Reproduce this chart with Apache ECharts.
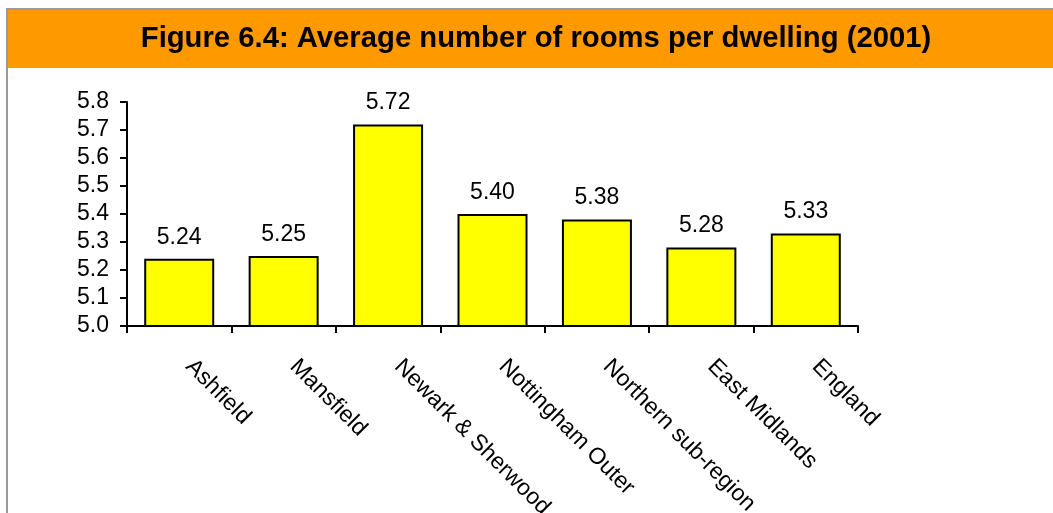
<!DOCTYPE html>
<html>
<head>
<meta charset="utf-8">
<script src="https://cdn.jsdelivr.net/npm/echarts@6/dist/echarts.min.js"></script>
<style>
  html, body { margin: 0; padding: 0; background: #fff; }
  #chart { width: 1053px; height: 513px; }
</style>
</head>
<body>
<div id="chart"></div>
<script>
// Average number of rooms per dwelling, 2001
const categories = ['Ashfield', 'Mansfield', 'Newark & Sherwood', 'Nottingham Outer',
                    'Northern sub-region', 'East Midlands', 'England'];
const roomsPerDwelling = [5.24, 5.25, 5.72, 5.40, 5.38, 5.28, 5.33];
const titleText = 'Figure 6.4: Average number of rooms per dwelling (2001)';

const FONT = '"Liberation Sans", Arial, Helvetica, sans-serif';

const chart = echarts.init(document.getElementById('chart'), null, { renderer: 'canvas' });

chart.setOption({
  animation: false,
  backgroundColor: '#ffffff',
  graphic: [
    { type: 'rect', shape: { x: 6, y: 8, width: 1060, height: 2 }, style: { fill: '#9a9a9a' }, silent: true },
    { type: 'rect', shape: { x: 6, y: 8, width: 2, height: 520 }, style: { fill: '#9a9a9a' }, silent: true },
    { type: 'rect', shape: { x: 8, y: 10, width: 1060, height: 58 }, style: { fill: '#FF9900' }, silent: true },
    {
      type: 'text', x: 536, y: 39, scaleX: 0.975,
      style: {
        text: titleText, fill: '#000', font: 'bold 30px ' + FONT,
        textAlign: 'center', textVerticalAlign: 'middle'
      },
      silent: true
    }
  ],
  grid: { left: 127, right: 195, top: 102, bottom: 187, containLabel: false, outerBoundsMode: 'none' },
  xAxis: {
    type: 'category',
    data: categories,
    boundaryGap: true,
    axisLine: { lineStyle: { color: '#000', width: 2 } },
    axisTick: { show: true, length: 7, alignWithLabel: false, lineStyle: { color: '#000', width: 2 } },
    axisLabel: {
      rotate: -45, margin: 27, color: '#000', fontSize: 23, fontFamily: FONT, interval: 0,
      padding: [0, 0, 0, 14]
    },
    splitLine: { show: false }
  },
  yAxis: {
    type: 'value',
    min: 5.0, max: 5.8, interval: 0.1,
    axisLine: { show: true, lineStyle: { color: '#000', width: 2 } },
    axisTick: { show: true, length: 7, lineStyle: { color: '#000', width: 2 } },
    axisLabel: {
      color: '#000', fontSize: 23, fontFamily: FONT, margin: 18,
      formatter: v => v.toFixed(1)
    },
    splitLine: { show: false }
  },
  series: [{
    type: 'bar',
    data: roomsPerDwelling,
    barWidth: 70,
    itemStyle: { color: '#FFFF00', borderColor: '#000', borderWidth: 2 },
    label: {
      show: true, position: 'top', distance: 10,
      color: '#000', fontSize: 23, fontFamily: FONT,
      formatter: p => p.value.toFixed(2)
    }
  }]
});
</script>
</body>
</html>
